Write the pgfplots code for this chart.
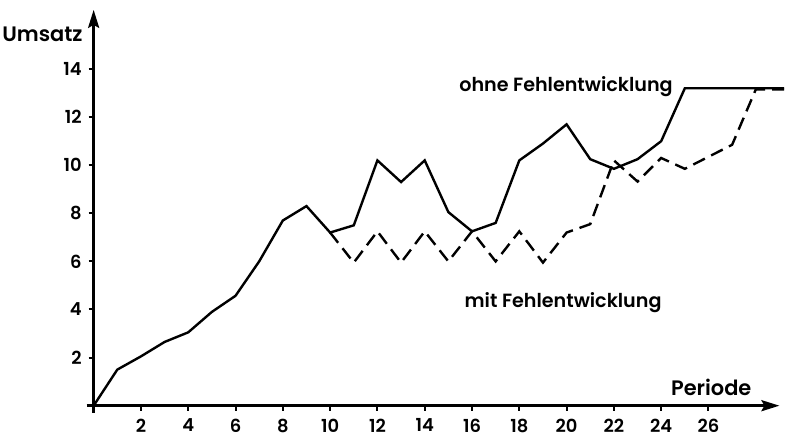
\documentclass[border=0pt]{standalone}
\usepackage{fontspec}
\setmainfont{Poppins}[UprightFont=* SemiBold]
\usepackage{pgfplots}
\pgfplotsset{compat=1.18}
\usetikzlibrary{arrows.meta}
\begin{document}
\begin{tikzpicture}
\begin{axis}[
  x=11.825bp, y=12.025bp,
  axis lines=middle,
  xmin=-0.3, xmax=29, ymin=-0.3, ymax=16.46,
  clip=false,
  axis line style={line width=1.4bp, -{Stealth[length=9bp,width=5.5bp,inset=1.5bp]}},
  xtick={2,4,...,26}, ytick={2,4,...,14},
  tick align=outside,
  major tick length=2.5bp,
  tick style={line width=1bp, black},
  every tick label/.append style={font=\fontsize{9}{11}\selectfont},
  /pgf/number format/assume math mode=true,
  xticklabel style={yshift=-0.5bp},
]
\addplot[line width=1.2bp, black] coordinates {
(0,0)(1,1.5)(2,2.05)(3,2.65)(4,3.05)(5,3.9)(6,4.57)(7,6)(8,7.7)(9,8.3)(10,7.2)(11,7.5)(12,10.2)(13,9.3)(14,10.2)(15,8.05)(16,7.25)(17,7.6)(18,10.2)(19,10.9)(20,11.7)(21,10.25)(22,9.85)(23,10.25)(24,11.0)(25,13.2)(29.2,13.2)
};
\addplot[line width=1.2bp, black, dash pattern=on 6.5bp off 3.5bp] coordinates {
(10,7.2)(11,5.95)(12,7.25)(13,5.95)(14,7.25)(15,6.0)(16,7.25)(17,6.0)(18,7.25)(19,5.95)(20,7.2)(21,7.55)(22,10.2)(23,9.32)(24,10.3)(25,9.85)(26,10.35)(27,10.85)(28,13.15)(29.2,13.15)
};
\node[anchor=east, font=\fontsize{9.6}{12}\selectfont, inner sep=0pt] at (axis cs:24.5,13.25) {ohne Fehlentwicklung};
\node[anchor=east, font=\fontsize{9.6}{12}\selectfont, inner sep=0pt] at (axis cs:24.03,4.3) {mit Fehlentwicklung};
\node[anchor=east, font=\fontsize{10.5}{12}\selectfont, inner sep=0pt] at (axis cs:27.83,0.74) {Periode};
\node[anchor=east, font=\fontsize{10.5}{12}\selectfont, inner sep=0pt] at (axis cs:-0.45,15.45) {Umsatz};
\path (axis cs:-3.96,-1.21) rectangle (axis cs:29.32,16.87);
\end{axis}
\end{tikzpicture}
\end{document}
